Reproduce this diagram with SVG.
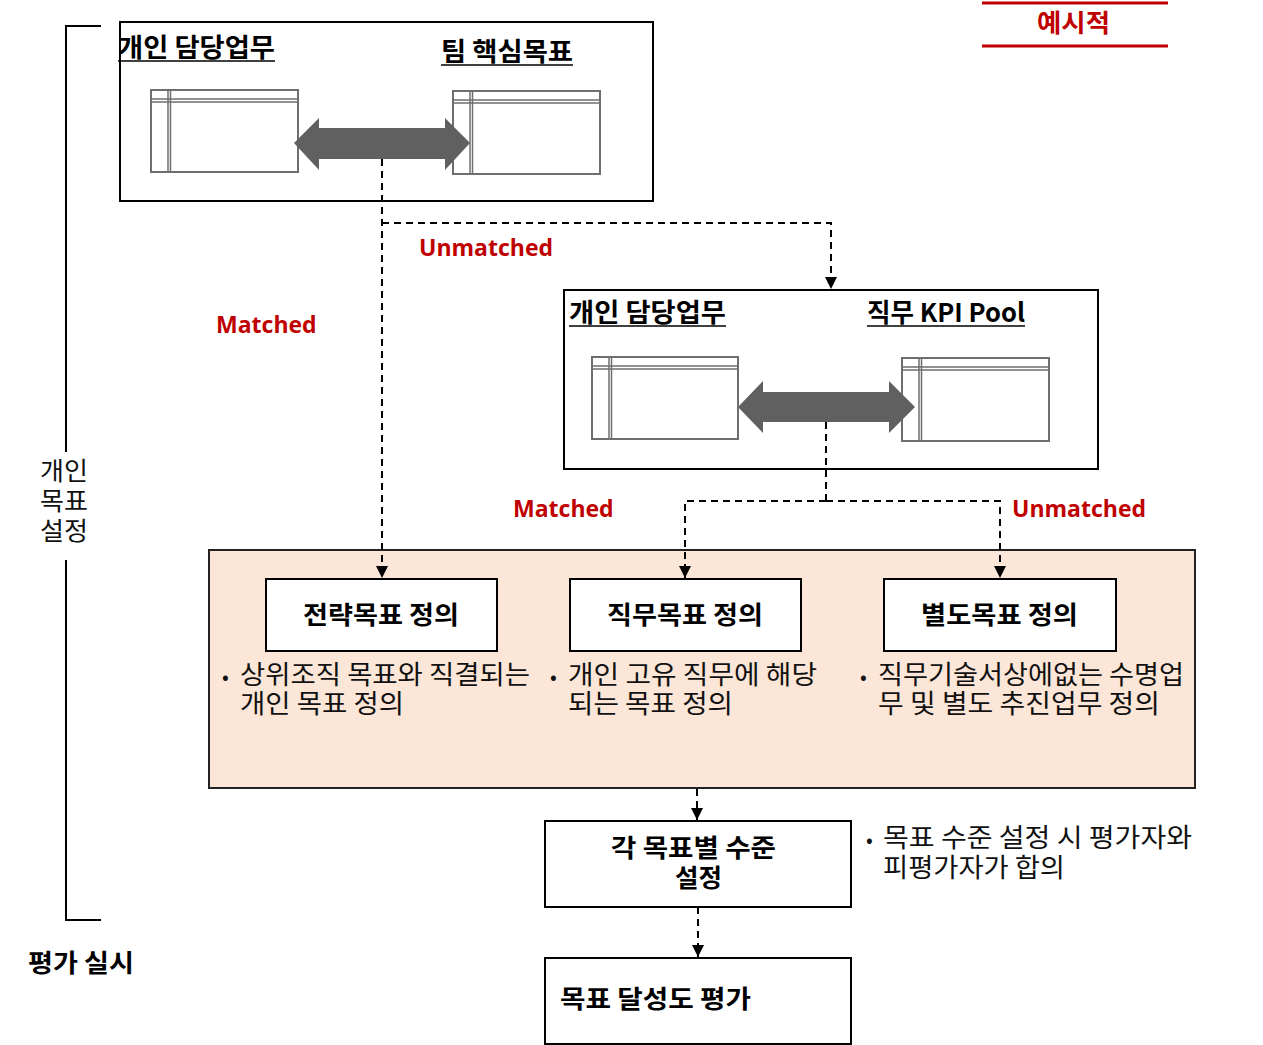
<svg xmlns="http://www.w3.org/2000/svg" width="1263" height="1045" viewBox="0 0 1263 1045">
<style>
.frame{fill:#fff;stroke:#000;stroke-width:2}
.tbl{fill:#fff;stroke:#6e6e6e;stroke-width:2}
.tl{stroke:#6e6e6e;stroke-width:1.5;fill:none}
.dbl{fill:#606060}
.conn{fill:none;stroke:#000;stroke-width:2;stroke-dasharray:7,5}
.kb{font-family:"Noto Sans CJK KR","Noto Sans",sans-serif;font-weight:700;fill:#000}
.kr{font-family:"Noto Sans CJK KR","Noto Sans",sans-serif;font-weight:400;fill:#111}
.red{font-family:"Open Sans","Noto Sans",sans-serif;font-weight:700;fill:#c00000;font-size:23px}
.ul{stroke:#000;stroke-width:1.5}
</style>
<defs>
<marker id="ah" viewBox="0 0 10 10" refX="10" refY="5" markerWidth="12" markerHeight="12" markerUnits="userSpaceOnUse" orient="auto">
<path d="M0,0 L10,5 L0,10 Z" fill="#000"/>
</marker>
</defs>
<rect width="1263" height="1045" fill="#fff"/>

<g id="example-tag">
<line x1="982" y1="3" x2="1168" y2="3" stroke="#c00000" stroke-width="3"/>
<line x1="982" y1="46" x2="1168" y2="46" stroke="#c00000" stroke-width="3"/>
<text x="1037" y="32" class="kb" font-size="25" style="fill:#c00000" textLength="73" lengthAdjust="spacingAndGlyphs">예시적</text>
</g>

<g id="bracket">
<polyline points="101,26 66,26 66,452" fill="none" stroke="#000" stroke-width="2"/>
<polyline points="66,560 66,920 101,920" fill="none" stroke="#000" stroke-width="2"/>
<text class="kr" font-size="25" x="40" y="480" textLength="48" lengthAdjust="spacingAndGlyphs">개인</text>
<text class="kr" font-size="25" x="40" y="510" textLength="48" lengthAdjust="spacingAndGlyphs">목표</text>
<text class="kr" font-size="25" x="40" y="540" textLength="48" lengthAdjust="spacingAndGlyphs">설정</text>
</g>

<g id="team-compare">
<rect class="frame" x="120" y="22" width="533" height="179"/>
<text class="kb" font-size="26" x="118" y="57" textLength="157" lengthAdjust="spacingAndGlyphs">개인 담당업무</text>
<line class="ul" x1="118" y1="61" x2="275" y2="61"/>
<text class="kb" font-size="26" x="441" y="61" textLength="132" lengthAdjust="spacingAndGlyphs">팀 핵심목표</text>
<line class="ul" x1="441" y1="65" x2="573" y2="65"/>
<rect class="tbl" x="151" y="90" width="147" height="82"/>
<line class="tl" x1="151" y1="99" x2="298" y2="99"/>
<line class="tl" x1="151" y1="102" x2="298" y2="102"/>
<line class="tl" x1="168" y1="90" x2="168" y2="172"/>
<line class="tl" x1="170.5" y1="90" x2="170.5" y2="172"/>
<rect class="tbl" x="453" y="91" width="147" height="83"/>
<line class="tl" x1="453" y1="100" x2="600" y2="100"/>
<line class="tl" x1="453" y1="103" x2="600" y2="103"/>
<line class="tl" x1="470" y1="91" x2="470" y2="174"/>
<line class="tl" x1="472.5" y1="91" x2="472.5" y2="174"/>
<polygon class="dbl" points="294,143 319,118 319,128 445,128 445,118 470,143 445,170 445,159 319,159 319,170"/>
</g>

<g id="kpi-compare">
<rect class="frame" x="564" y="290" width="534" height="179"/>
<text class="kb" font-size="26" x="569" y="322" textLength="157" lengthAdjust="spacingAndGlyphs">개인 담당업무</text>
<line class="ul" x1="569" y1="326" x2="726" y2="326"/>
<text class="kb" font-size="26" x="867" y="322" textLength="158" lengthAdjust="spacingAndGlyphs">직무 KPI Pool</text>
<line class="ul" x1="867" y1="326" x2="1025" y2="326"/>
<rect class="tbl" x="592" y="357" width="146" height="82"/>
<line class="tl" x1="592" y1="366" x2="738" y2="366"/>
<line class="tl" x1="592" y1="369" x2="738" y2="369"/>
<line class="tl" x1="609" y1="357" x2="609" y2="439"/>
<line class="tl" x1="611.5" y1="357" x2="611.5" y2="439"/>
<rect class="tbl" x="902" y="358" width="147" height="83"/>
<line class="tl" x1="902" y1="367" x2="1049" y2="367"/>
<line class="tl" x1="902" y1="370" x2="1049" y2="370"/>
<line class="tl" x1="919" y1="358" x2="919" y2="441"/>
<line class="tl" x1="921.5" y1="358" x2="921.5" y2="441"/>
<polygon class="dbl" points="738,407 763,381 763,392 889,392 889,381 915,407 889,433 889,422 763,422 763,433"/>
</g>

<g id="define-panel">
<rect x="209" y="550" width="986" height="238" fill="#fbe6d7" stroke="#222" stroke-width="2"/>
</g>

<g id="strategic">
<rect class="frame" x="266" y="579" width="231" height="72"/>
<text class="kb" font-size="25" x="303" y="624" textLength="156" lengthAdjust="spacingAndGlyphs">전략목표 정의</text>
<text class="kr" font-size="26" x="222" y="684"><tspan font-size="20">•</tspan><tspan x="240" textLength="290" lengthAdjust="spacingAndGlyphs">상위조직 목표와 직결되는</tspan></text>
<text class="kr" font-size="26" x="240" y="713" textLength="164" lengthAdjust="spacingAndGlyphs">개인 목표 정의</text>
</g>

<g id="job">
<rect class="frame" x="570" y="579" width="231" height="72"/>
<text class="kb" font-size="25" x="607" y="624" textLength="156" lengthAdjust="spacingAndGlyphs">직무목표 정의</text>
<text class="kr" font-size="26" x="550" y="684"><tspan font-size="20">•</tspan><tspan x="568" textLength="249" lengthAdjust="spacingAndGlyphs">개인 고유 직무에 해당</tspan></text>
<text class="kr" font-size="26" x="568" y="713" textLength="165" lengthAdjust="spacingAndGlyphs">되는 목표 정의</text>
</g>

<g id="separate">
<rect class="frame" x="884" y="579" width="232" height="72"/>
<text class="kb" font-size="25" x="921" y="624" textLength="157" lengthAdjust="spacingAndGlyphs">별도목표 정의</text>
<text class="kr" font-size="26" x="860" y="684"><tspan font-size="20">•</tspan><tspan x="878" textLength="306" lengthAdjust="spacingAndGlyphs">직무기술서상에없는 수명업</tspan></text>
<text class="kr" font-size="26" x="878" y="713" textLength="282" lengthAdjust="spacingAndGlyphs">무 및 별도 추진업무 정의</text>
</g>

<g id="level">
<rect class="frame" x="545" y="821" width="306" height="86"/>
<text class="kb" font-size="25" x="611" y="857" textLength="165" lengthAdjust="spacingAndGlyphs">각 목표별 수준</text>
<text class="kb" font-size="25" x="675" y="887" textLength="47" lengthAdjust="spacingAndGlyphs">설정</text>
<text class="kr" font-size="26" x="866" y="847"><tspan font-size="20">•</tspan><tspan x="883" textLength="309" lengthAdjust="spacingAndGlyphs">목표 수준 설정 시 평가자와</tspan></text>
<text class="kr" font-size="26" x="883" y="877" textLength="182" lengthAdjust="spacingAndGlyphs">피평가자가 합의</text>
</g>

<g id="evaluate">
<rect class="frame" x="545" y="958" width="306" height="86"/>
<text class="kb" font-size="25" x="560" y="1008" textLength="191" lengthAdjust="spacingAndGlyphs">목표 달성도 평가</text>
</g>

<g id="eval-label">
<text class="kb" font-size="25" x="28" y="972" textLength="106" lengthAdjust="spacingAndGlyphs">평가 실시</text>
</g>

<g id="connectors">
<line class="conn" x1="382" y1="159" x2="382" y2="578" marker-end="url(#ah)"/>
<polyline class="conn" points="382,223 831,223 831,289" marker-end="url(#ah)"/>
<line class="conn" x1="826" y1="422" x2="826" y2="501"/>
<polyline class="conn" points="826,501 685,501 685,578" marker-end="url(#ah)"/>
<polyline class="conn" points="826,501 1000,501 1000,578" marker-end="url(#ah)"/>
<line class="conn" x1="697" y1="789" x2="697" y2="820" marker-end="url(#ah)"/>
<line class="conn" x1="698" y1="907" x2="698" y2="957" marker-end="url(#ah)"/>
<text class="red" x="419" y="256">Unmatched</text>
<text class="red" x="216" y="333">Matched</text>
<text class="red" x="513" y="517">Matched</text>
<text class="red" x="1012" y="517">Unmatched</text>
</g>
</svg>
